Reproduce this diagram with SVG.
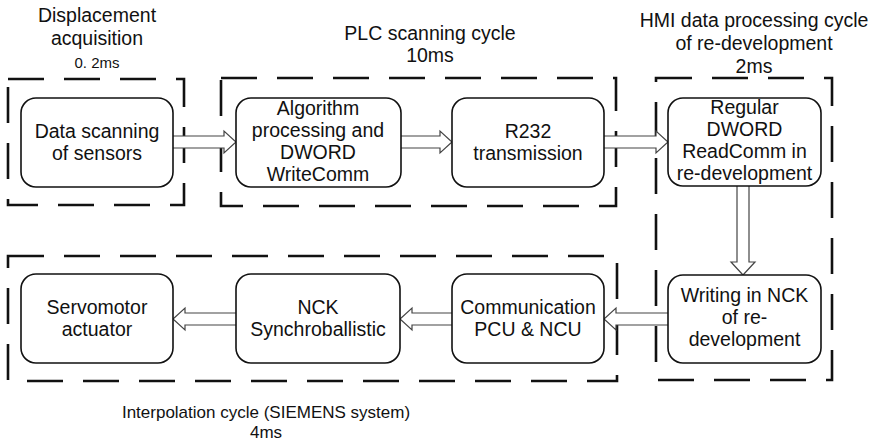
<svg xmlns="http://www.w3.org/2000/svg" width="876" height="443" viewBox="0 0 876 443">
<style>
.bg{fill:#fff}
.grp{fill:none;stroke:#111;stroke-width:2.6;stroke-dasharray:36 20}
.node{fill:#fff;stroke:#111;stroke-width:1.6}
.t{font-family:"Liberation Sans",Arial,sans-serif;font-size:19.5px;fill:#111;text-anchor:middle}
.arr{fill:#fff;stroke:#444;stroke-width:1.2;stroke-linejoin:miter}
</style>
<rect class="bg" width="876" height="443"/>
<g id="groups">
<rect class="grp" x="8" y="79" width="176" height="126"/>
<rect class="grp" x="221" y="78" width="395" height="128"/>
<rect class="grp" x="656" y="78" width="176" height="302"/>
<rect class="grp" x="8" y="256" width="609" height="125"/>
</g>
<g id="labels">
<text class="t" x="97" y="22">Displacement</text>
<text class="t" x="97" y="45">acquisition</text>
<text class="t" x="97" y="68" style="font-size:15px">0. 2ms</text>
<text class="t" x="430" y="40">PLC scanning cycle</text>
<text class="t" x="430" y="62">10ms</text>
<text class="t" x="754" y="27">HMI data processing cycle</text>
<text class="t" x="754" y="50">of re-development</text>
<text class="t" x="754" y="73">2ms</text>
<text class="t" x="266" y="418" style="font-size:17px">Interpolation cycle (SIEMENS system)</text>
<text class="t" x="266" y="438" style="font-size:17px">4ms</text>
</g>
<g id="connectors">
<path class="arr" d="M173,136 H224 V131 L236,142 L224,153 V148 H173"/>
<path class="arr" d="M401,136 H440 V131 L452,142 L440,153 V148 H401"/>
<path class="arr" d="M604,136 H656 V131 L668,142 L656,153 V148 H604"/>
<path class="arr" d="M737,186 V262 H731 L743,275 L755,262 H749 V186"/>
<path class="arr" d="M668,313 H616 V308 L604,319 L616,330 V325 H668"/>
<path class="arr" d="M452,313 H412 V308 L400,319 L412,330 V325 H452"/>
<path class="arr" d="M236,313 H185 V308 L173,319 L185,330 V325 H236"/>
</g>
<g id="n1">
<rect class="node" x="21" y="98" width="152" height="89" rx="15"/>
<text class="t" x="97" y="138">Data scanning</text>
<text class="t" x="97" y="160">of sensors</text>
</g>
<g id="n2">
<rect class="node" x="236" y="98" width="165" height="89" rx="15"/>
<text class="t" x="318" y="115">Algorithm</text>
<text class="t" x="318" y="137">processing and</text>
<text class="t" x="318" y="159">DWORD</text>
<text class="t" x="318" y="181">WriteComm</text>
</g>
<g id="n3">
<rect class="node" x="452" y="98" width="152" height="89" rx="15"/>
<text class="t" x="528" y="138">R232</text>
<text class="t" x="528" y="160">transmission</text>
</g>
<g id="n4">
<rect class="node" x="668" y="98" width="153" height="88" rx="15"/>
<text class="t" x="744.5" y="114">Regular</text>
<text class="t" x="744.5" y="136">DWORD</text>
<text class="t" x="744.5" y="158">ReadComm in</text>
<text class="t" x="744.5" y="180">re-development</text>
</g>
<g id="n5">
<rect class="node" x="668" y="275" width="153" height="88" rx="15"/>
<text class="t" x="744.5" y="302">Writing in NCK</text>
<text class="t" x="744.5" y="324">of re-</text>
<text class="t" x="744.5" y="346">development</text>
</g>
<g id="n6">
<rect class="node" x="452" y="274" width="152" height="89" rx="15"/>
<text class="t" x="528" y="314">Communication</text>
<text class="t" x="528" y="336">PCU &amp; NCU</text>
</g>
<g id="n7">
<rect class="node" x="236" y="274" width="164" height="89" rx="15"/>
<text class="t" x="318" y="314">NCK</text>
<text class="t" x="318" y="336">Synchroballistic</text>
</g>
<g id="n8">
<rect class="node" x="21" y="274" width="152" height="89" rx="15"/>
<text class="t" x="97" y="314">Servomotor</text>
<text class="t" x="97" y="336">actuator</text>
</g>
</svg>
